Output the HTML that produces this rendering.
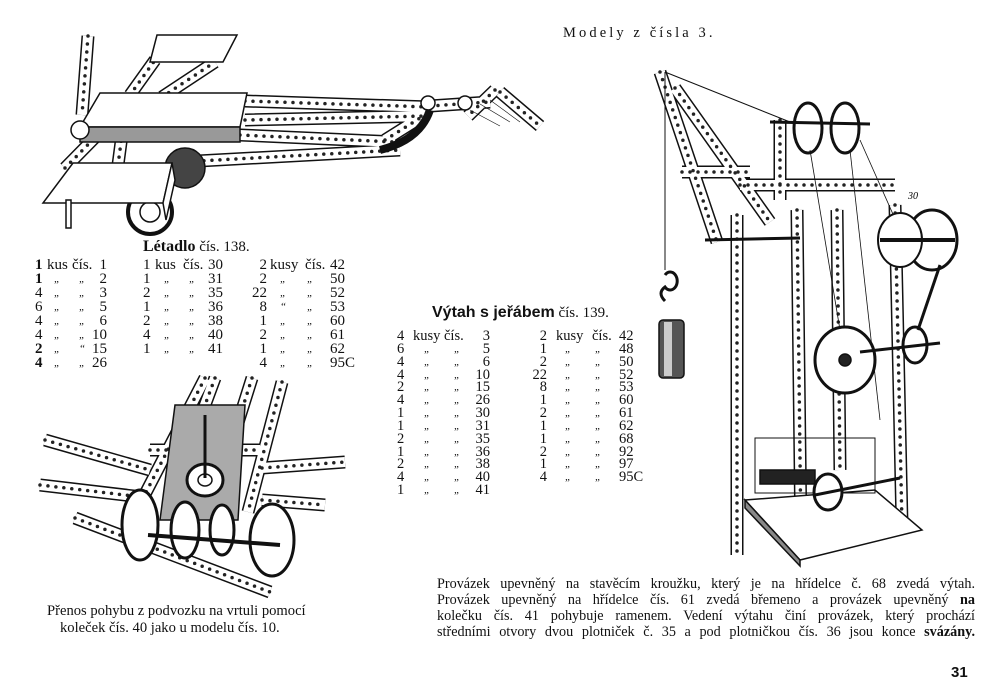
<!DOCTYPE html>
<html><head><meta charset="utf-8"><style>
body{margin:0;width:1000px;height:700px;background:#fff;position:relative;overflow:hidden;font-family:"Liberation Serif",serif;color:#111}
.t{position:absolute;white-space:nowrap;font-size:15px;line-height:16px}
svg{position:absolute;left:0;top:0}
.r{position:absolute;left:0;height:14px;line-height:14px;font-size:15px;white-space:nowrap}
.v{font-size:14.5px}
.r span{position:absolute;top:0}
.r .n{width:24px;text-align:right}
.r .d{font-style:italic;font-size:11px;width:10px;text-align:center;margin-left:-5px}
.pl{position:absolute;left:437px;width:538px;font-size:14.2px;line-height:16px;text-align:justify;text-align-last:justify;white-space:nowrap}
</style></head><body>
<svg width="1000" height="700" viewBox="0 0 1000 700">
<defs>
<path id="s" fill="none" d="
M88 36L82 115 M130 95L155 60 M162 97L215 62
M245 101L430 107 M245 120L425 116 M240 135L395 142 M180 162L400 150 M385 140L420 118
M65 168L120 112 M118 165L125 112 M430 106L490 102 M495 90L468 116 M500 92L540 126
M205 378L142 500 M215 378L168 505 M252 378L212 505 M282 382L248 512
M45 440L150 470 M40 485L142 497 M262 468L345 462 M262 500L325 505 M75 518L270 592
M150 450L260 450
M660 72L717 242 M675 88L770 222 M682 172L750 172 M780 120L780 200
M737 215L737 555 M797 210L801 540 M837 210L840 470 M895 205L902 525 M740 185L895 185"/>
</defs>
<g stroke-linecap="round">
<use href="#s" stroke="#111" stroke-width="13" stroke-linecap="butt"/>
<use href="#s" stroke="#fff" stroke-width="10" stroke-linecap="butt"/>
<use href="#s" stroke="#222" stroke-width="3.5" stroke-dasharray="0 8"/>
</g>
<g stroke="#111" stroke-width="1.5">
<polygon points="157,35 237,35 223,62 150,62" fill="#fff"/>
<polygon points="100,93 247,93 240,127 80,127" fill="#fff"/>
<polygon points="80,127 240,127 240,142 80,142" fill="#999"/>
<circle cx="185" cy="168" r="20" fill="#444"/>
<circle cx="150" cy="212" r="22" fill="#fff" stroke-width="4"/>
<circle cx="150" cy="212" r="10" fill="#fff"/>
<polygon points="43,203 163,203 172,163 73,163" fill="#fff"/>
<polygon points="163,203 172,163 175,180 166,220" fill="#fff"/>
<rect x="66" y="200" width="5" height="28" fill="#fff"/>
<circle cx="80" cy="130" r="9" fill="#fff"/>
<circle cx="428" cy="103" r="7" fill="#fff"/><circle cx="465" cy="103" r="7" fill="#fff"/>
<path d="M380 150 Q420 140 430 110" fill="none" stroke-width="8"/>
<path d="M470 110L500 126M480 104L510 122M490 100L520 122" stroke-width=".6"/>
<polygon points="175,405 245,405 238,520 160,520" fill="#aaa"/>
<ellipse cx="140" cy="525" rx="18" ry="35" fill="#fff" stroke-width="3"/>
<ellipse cx="272" cy="540" rx="22" ry="36" fill="#fff" stroke-width="3"/>
<ellipse cx="185" cy="530" rx="14" ry="28" fill="#fff" stroke-width="3"/>
<ellipse cx="222" cy="530" rx="12" ry="25" fill="#fff" stroke-width="3"/>
<ellipse cx="205" cy="480" rx="18" ry="16" fill="#fff" stroke-width="3"/>
<ellipse cx="205" cy="480" rx="7" ry="6" fill="#fff"/>
<line x1="148" y1="535" x2="280" y2="545" stroke-width="4"/>
<line x1="205" y1="415" x2="205" y2="478" stroke-width="3"/>
<line x1="665" y1="72" x2="665" y2="270" stroke-width="1"/>
<line x1="665" y1="72" x2="805" y2="128" stroke-width="1"/>
<path d="M665 275a7 9 0 1 1 0 12q-8 6 0 14" fill="none" stroke-width="3"/>
<rect x="659" y="320" width="25" height="58" rx="4" fill="#555"/>
<rect x="664" y="322" width="8" height="54" fill="#ccc" stroke="none"/>
<polygon points="745,500 875,490 922,530 800,560" fill="#fff"/>
<polygon points="745,500 800,560 800,566 745,508" fill="#888"/>
<rect x="755" y="438" width="120" height="55" fill="none" stroke-width="1"/>
<rect x="760" y="470" width="55" height="14" fill="#222"/>
<ellipse cx="808" cy="128" rx="14" ry="25" fill="#fff" stroke-width="3"/>
<ellipse cx="845" cy="128" rx="14" ry="25" fill="#fff" stroke-width="3"/>
<line x1="770" y1="122" x2="870" y2="124" stroke-width="3"/>
<line x1="810" y1="150" x2="840" y2="330" stroke-width=".8"/>
<line x1="850" y1="150" x2="880" y2="420" stroke-width=".8"/>
<line x1="860" y1="140" x2="900" y2="230" stroke-width=".8"/>
<ellipse cx="932" cy="240" rx="25" ry="30" fill="#fff" stroke-width="3"/>
<ellipse cx="900" cy="240" rx="22" ry="27" fill="#fff" stroke-width="2"/>
<line x1="880" y1="240" x2="955" y2="240" stroke-width="4"/>
<ellipse cx="845" cy="360" rx="30" ry="33" fill="#fff" stroke-width="3"/>
<ellipse cx="845" cy="360" rx="6" ry="6" fill="#222"/>
<ellipse cx="915" cy="345" rx="12" ry="18" fill="#fff" stroke-width="3"/>
<line x1="860" y1="352" x2="940" y2="343" stroke-width="3"/>
<line x1="940" y1="265" x2="918" y2="330" stroke-width="3"/>
<ellipse cx="828" cy="492" rx="14" ry="18" fill="#fff" stroke-width="3"/>
<line x1="815" y1="495" x2="900" y2="478" stroke-width="3"/>
<line x1="705" y1="240" x2="800" y2="238" stroke-width="3"/>
</g>
<text x="908" y="199" font-size="10" font-style="italic" font-family="Liberation Serif">30</text>
</svg>

<div class="t" style="left:563px;top:25px;font-size:14.5px;letter-spacing:3.1px">Modely z čísla 3.</div>

<div class="t" style="left:143px;top:239px;font-size:15px"><b style="font-size:16px">Létadlo</b> čís. 138.</div>

<div class="r" style="top:258px"><span style="left:35px"><b>1</b></span><span style="left:47px">kus</span><span style="left:72px">čís.</span><span class="n" style="left:83px">1</span>
<span style="left:143px">1</span><span style="left:155px">kus</span><span style="left:183px">čís.</span><span class="n" style="left:199px">30</span>
<span class="n" style="left:243px">2</span><span style="left:270px">kusy</span><span style="left:305px">čís.</span><span style="left:330px">42</span></div>
<div class="r" style="top:272px"><span style="left:35px"><b>1</b></span><span class="d" style="left:57px">„</span><span class="d" style="left:82px">„</span><span class="n" style="left:83px">2</span>
<span style="left:143px">1</span><span class="d" style="left:167px">„</span><span class="d" style="left:192px">„</span><span class="n" style="left:199px">31</span>
<span class="n" style="left:243px">2</span><span class="d" style="left:283px">„</span><span class="d" style="left:310px">„</span><span style="left:330px">50</span></div>
<div class="r" style="top:286px"><span style="left:35px">4</span><span class="d" style="left:57px">„</span><span class="d" style="left:82px">„</span><span class="n" style="left:83px">3</span>
<span style="left:143px">2</span><span class="d" style="left:167px">„</span><span class="d" style="left:192px">„</span><span class="n" style="left:199px">35</span>
<span class="n" style="left:243px">22</span><span class="d" style="left:283px">„</span><span class="d" style="left:310px">„</span><span style="left:330px">52</span></div>
<div class="r" style="top:300px"><span style="left:35px">6</span><span class="d" style="left:57px">„</span><span class="d" style="left:82px">„</span><span class="n" style="left:83px">5</span>
<span style="left:143px">1</span><span class="d" style="left:167px">„</span><span class="d" style="left:192px">„</span><span class="n" style="left:199px">36</span>
<span class="n" style="left:243px">8</span><span class="d" style="left:283px">“</span><span class="d" style="left:310px">„</span><span style="left:330px">53</span></div>
<div class="r" style="top:314px"><span style="left:35px">4</span><span class="d" style="left:57px">„</span><span class="d" style="left:82px">„</span><span class="n" style="left:83px">6</span>
<span style="left:143px">2</span><span class="d" style="left:167px">„</span><span class="d" style="left:192px">„</span><span class="n" style="left:199px">38</span>
<span class="n" style="left:243px">1</span><span class="d" style="left:283px">„</span><span class="d" style="left:310px">„</span><span style="left:330px">60</span></div>
<div class="r" style="top:328px"><span style="left:35px">4</span><span class="d" style="left:57px">„</span><span class="d" style="left:82px">„</span><span class="n" style="left:83px">10</span>
<span style="left:143px">4</span><span class="d" style="left:167px">„</span><span class="d" style="left:192px">„</span><span class="n" style="left:199px">40</span>
<span class="n" style="left:243px">2</span><span class="d" style="left:283px">„</span><span class="d" style="left:310px">„</span><span style="left:330px">61</span></div>
<div class="r" style="top:342px"><span style="left:35px"><b>2</b></span><span class="d" style="left:57px">„</span><span class="d" style="left:82px">“</span><span class="n" style="left:83px">15</span>
<span style="left:143px">1</span><span class="d" style="left:167px">„</span><span class="d" style="left:192px">„</span><span class="n" style="left:199px">41</span>
<span class="n" style="left:243px">1</span><span class="d" style="left:283px">„</span><span class="d" style="left:310px">„</span><span style="left:330px">62</span></div>
<div class="r" style="top:356px"><span style="left:35px"><b>4</b></span><span class="d" style="left:57px">„</span><span class="d" style="left:82px">„</span><span class="n" style="left:83px">26</span>
<span class="n" style="left:243px">4</span><span class="d" style="left:283px">„</span><span class="d" style="left:310px">„</span><span style="left:330px">95C</span></div>

<div class="t" style="left:432px;top:305px;font-size:15px"><b style="font-size:16px;font-family:'Liberation Sans',sans-serif">Výtah s jeřábem</b> čís. 139.</div>

<div class="r v" style="top:329px"><span style="left:397px">4</span><span style="left:413px">kusy</span><span style="left:444px">čís.</span><span class="n" style="left:466px">3</span>
<span class="n" style="left:523px">2</span><span style="left:556px">kusy</span><span style="left:592px">čís.</span><span style="left:619px">42</span></div>
<div class="r v" style="top:342px"><span style="left:397px">6</span><span class="d" style="left:427px">„</span><span class="d" style="left:457px">„</span><span class="n" style="left:466px">5</span>
<span class="n" style="left:523px">1</span><span class="d" style="left:568px">„</span><span class="d" style="left:598px">„</span><span style="left:619px">48</span></div>
<div class="r v" style="top:355px"><span style="left:397px">4</span><span class="d" style="left:427px">„</span><span class="d" style="left:457px">„</span><span class="n" style="left:466px">6</span>
<span class="n" style="left:523px">2</span><span class="d" style="left:568px">„</span><span class="d" style="left:598px">„</span><span style="left:619px">50</span></div>
<div class="r v" style="top:368px"><span style="left:397px">4</span><span class="d" style="left:427px">„</span><span class="d" style="left:457px">„</span><span class="n" style="left:466px">10</span>
<span class="n" style="left:523px">22</span><span class="d" style="left:568px">„</span><span class="d" style="left:598px">„</span><span style="left:619px">52</span></div>
<div class="r v" style="top:380px"><span style="left:397px">2</span><span class="d" style="left:427px">„</span><span class="d" style="left:457px">„</span><span class="n" style="left:466px">15</span>
<span class="n" style="left:523px">8</span><span class="d" style="left:568px">„</span><span class="d" style="left:598px">„</span><span style="left:619px">53</span></div>
<div class="r v" style="top:393px"><span style="left:397px">4</span><span class="d" style="left:427px">„</span><span class="d" style="left:457px">„</span><span class="n" style="left:466px">26</span>
<span class="n" style="left:523px">1</span><span class="d" style="left:568px">„</span><span class="d" style="left:598px">„</span><span style="left:619px">60</span></div>
<div class="r v" style="top:406px"><span style="left:397px">1</span><span class="d" style="left:427px">„</span><span class="d" style="left:457px">„</span><span class="n" style="left:466px">30</span>
<span class="n" style="left:523px">2</span><span class="d" style="left:568px">„</span><span class="d" style="left:598px">„</span><span style="left:619px">61</span></div>
<div class="r v" style="top:419px"><span style="left:397px">1</span><span class="d" style="left:427px">„</span><span class="d" style="left:457px">„</span><span class="n" style="left:466px">31</span>
<span class="n" style="left:523px">1</span><span class="d" style="left:568px">„</span><span class="d" style="left:598px">„</span><span style="left:619px">62</span></div>
<div class="r v" style="top:432px"><span style="left:397px">2</span><span class="d" style="left:427px">„</span><span class="d" style="left:457px">„</span><span class="n" style="left:466px">35</span>
<span class="n" style="left:523px">1</span><span class="d" style="left:568px">„</span><span class="d" style="left:598px">„</span><span style="left:619px">68</span></div>
<div class="r v" style="top:445px"><span style="left:397px">1</span><span class="d" style="left:427px">„</span><span class="d" style="left:457px">„</span><span class="n" style="left:466px">36</span>
<span class="n" style="left:523px">2</span><span class="d" style="left:568px">„</span><span class="d" style="left:598px">„</span><span style="left:619px">92</span></div>
<div class="r v" style="top:457px"><span style="left:397px">2</span><span class="d" style="left:427px">„</span><span class="d" style="left:457px">„</span><span class="n" style="left:466px">38</span>
<span class="n" style="left:523px">1</span><span class="d" style="left:568px">„</span><span class="d" style="left:598px">„</span><span style="left:619px">97</span></div>
<div class="r v" style="top:470px"><span style="left:397px">4</span><span class="d" style="left:427px">„</span><span class="d" style="left:457px">„</span><span class="n" style="left:466px">40</span>
<span class="n" style="left:523px">4</span><span class="d" style="left:568px">„</span><span class="d" style="left:598px">„</span><span style="left:619px">95C</span></div>
<div class="r v" style="top:483px"><span style="left:397px">1</span><span class="d" style="left:427px">„</span><span class="d" style="left:457px">„</span><span class="n" style="left:466px">41</span></div>

<div class="t" style="left:47px;top:603px;font-size:14.6px">Přenos pohybu z podvozku na vrtuli pomocí</div>
<div class="t" style="left:60px;top:620px;font-size:14.6px">koleček čís. 40 jako u modelu čís. 10.</div>

<div class="pl" style="top:576px">Provázek upevněný na stavěcím kroužku, který je na hřídelce č. 68 zvedá výtah.</div>
<div class="pl" style="top:592px">Provázek upevněný na hřídelce čís. 61 zvedá břemeno a provázek upevněný <b>na</b></div>
<div class="pl" style="top:608px">kolečku čís. 41 pohybuje ramenem. Vedení výtahu činí provázek, který prochází</div>
<div class="pl" style="top:624px">středními otvory dvou plotniček č. 35 a pod plotničkou čís. 36 jsou konce <b>svázány.</b></div>

<div class="t" style="left:951px;top:665px;font-size:15px;font-weight:bold;font-family:'Liberation Sans',sans-serif">31</div>
</body></html>
